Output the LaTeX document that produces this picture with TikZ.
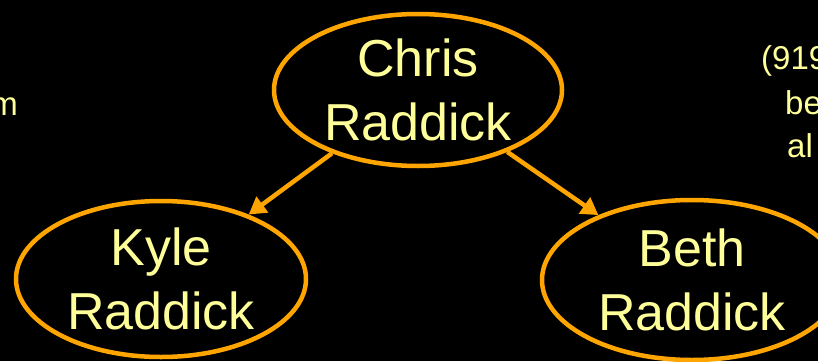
\documentclass[tikz,border=0pt]{standalone}
\usepackage{fontspec}
\setmainfont{Liberation Sans}
\usetikzlibrary{arrows.meta,shapes.geometric}
\definecolor{namecol}{HTML}{FFFF99}
\definecolor{linecol}{HTML}{FFA500}
\begin{document}
\begin{tikzpicture}[x=1pt,y=-1pt,
  person/.style={ellipse,draw=linecol,line width=4.5pt,inner sep=0pt,
    minimum width=290pt,minimum height=156pt,align=center,text=namecol,
    font=\fontsize{52}{64}\selectfont},
  side/.style={inner sep=0pt,text=namecol,font=\fontsize{33}{40}\selectfont},
  link/.style={draw=linecol,line width=4.5pt,-{Triangle[length=17pt,width=19pt]}}]
\fill[black] (0,0) rectangle (818,361);
\useasboundingbox (0,0) rectangle (818,361);
\clip (0,0) rectangle (818,361);
\node[person,minimum width=288pt,minimum height=152pt] (chris) at (418,90) {Chris\\Raddick};
\node[person] (kyle) at (161,279) {Kyle\\Raddick};
\node[person,minimum width=300pt,minimum height=160pt] (beth) at (692,280) {Beth\\Raddick};
\draw[link] (chris) -- (kyle);
\draw[link] (chris) -- (beth);
\node[side,anchor=base east] (leftm) at (18,115) {m};
\node[side,anchor=base west] (phone) at (761,70) {(919};
\node[side,anchor=base west] (linebe) at (785,114) {be};
\node[side,anchor=base west] (lineal) at (787,157) {al};
\end{tikzpicture}
\end{document}
